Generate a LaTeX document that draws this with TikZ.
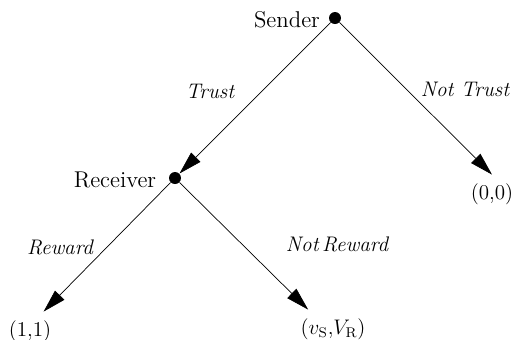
\documentclass[tikz,border=0pt]{standalone}
\usepackage{amsmath,amssymb}
\usepackage{tikz}
\usetikzlibrary{positioning,arrows.meta}
\usepackage{xcolor}

\begin{document}
\begin{tikzpicture}[x=0.2mm,y=-0.2mm,>={Triangle[length=4.6mm,width=2.6mm]},
  dot/.style={circle,fill,inner sep=0pt,minimum size=2.4mm},
  who/.style={font=\fontsize{13}{15}\selectfont},
  act/.style={font=\fontsize{12}{14}\selectfont\itshape},
  pay/.style={font=\fontsize{12}{14}\selectfont,outer sep=0.6mm}]
\useasboundingbox (0,0) rectangle (514,339);
\node[dot] (s) at (335,18) {};
\node[who] (sl) at (287,20) {Sender};
\node[dot] (r) at (175,178) {};
\node[who] (rl) at (115,180) {Receiver};
\node[pay] (p0) at (492,194) {(0,0)};
\node[pay] (p1) at (30,331) {(1,1)};
\node[pay] (p2) at (333,329) {($v_{\mathrm{S}}$,$V_{\mathrm{R}}$)};
\node[act] (t) at (210,91) {Trust};
\node[act] (nt) at (465,89) {Not Trust};
\node[act] (w) at (60,247) {Reward};
\node[act] (nw) at (337,244) {Not\,Reward};
\draw[->] (s) -- (r);
\draw[->] (s) -- (p0.north);
\draw[->] (r) -- (p1.55);
\draw[->] (r) -- (p2.142);
\end{tikzpicture}
\end{document}
